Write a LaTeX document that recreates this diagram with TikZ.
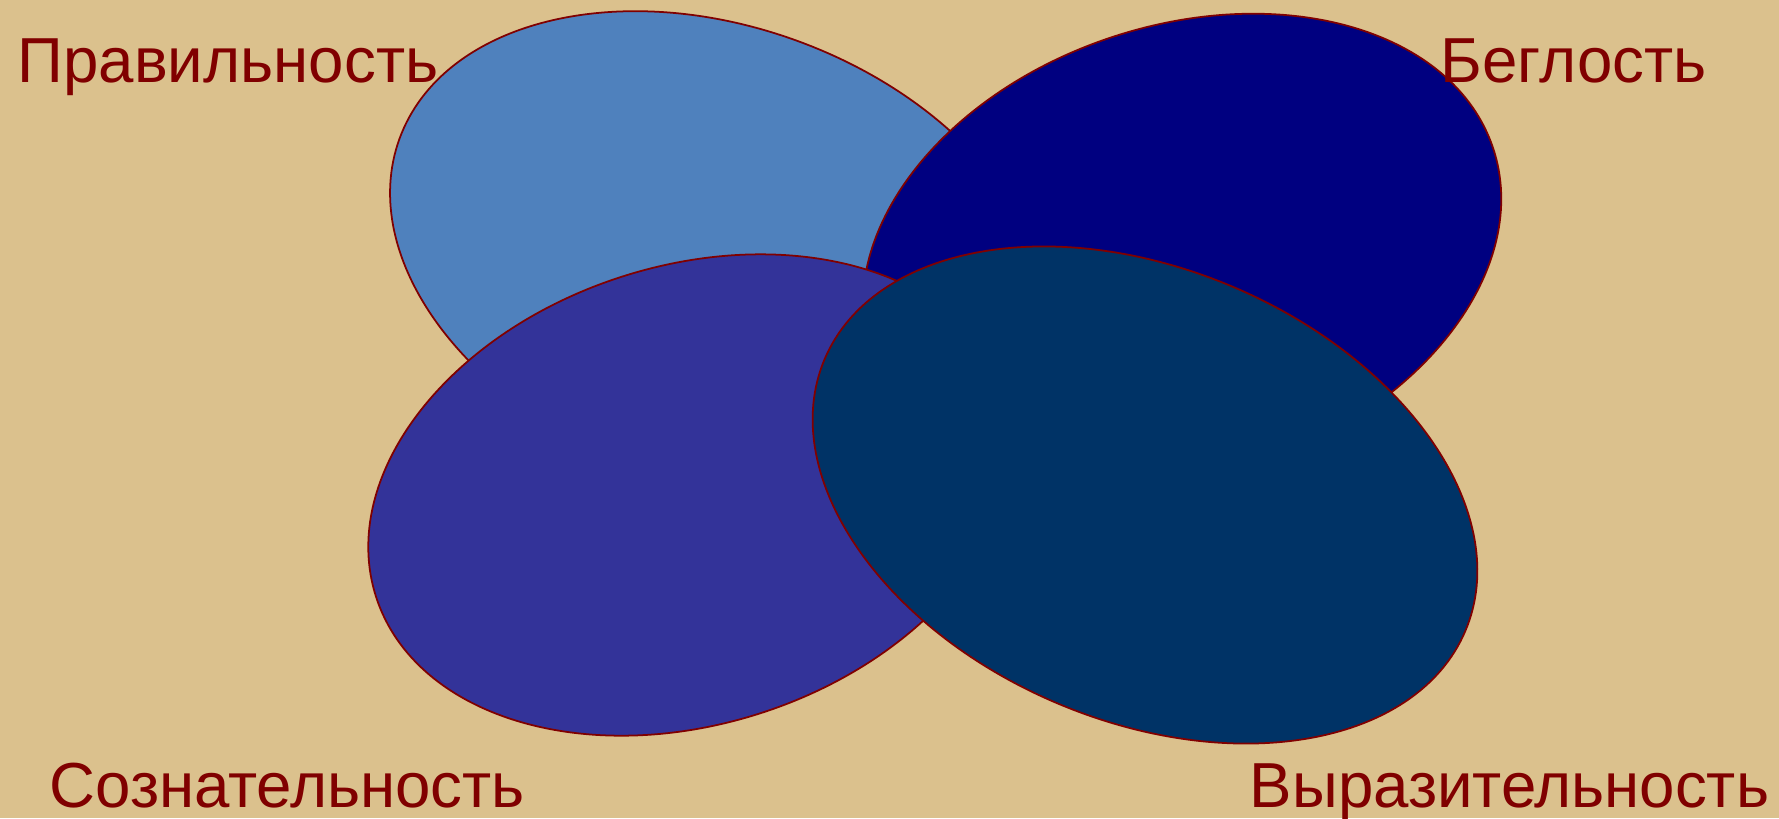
\documentclass[tikz,border=0pt]{standalone}
\usepackage{fontspec}
\setmainfont{Liberation Sans}
\definecolor{parchment}{RGB}{219,193,141}
\definecolor{rimred}{RGB}{128,0,0}
\definecolor{skyblue}{RGB}{79,129,189}
\definecolor{deepnavy}{RGB}{0,0,128}
\definecolor{indigo}{RGB}{51,51,153}
\definecolor{petrol}{RGB}{0,51,102}
\tikzset{
  petal/.style={draw=rimred,line width=0.5pt},
  word/.style={text=rimred,font=\fontsize{18.1}{20}\selectfont,inner sep=0pt}
}

\begin{document}
\begin{tikzpicture}[x=0.1mm,y=-0.1mm]
  \useasboundingbox (0,0) rectangle (1779,818);
  \fill[parchment] (0,0) rectangle (1779,818);
  % four tilted ellipses, back to front
  \foreach \col/\cx/\cy/\rx/\ry/\ang in {skyblue/719/255/340/228/-20,
      deepnavy/1182/252/328/226/18.5, indigo/691/495/331/229/18,
      petrol/1145/495/348/226/-23}{
    \fill[\col,petal,rotate around={\ang:(\cx,\cy)}]
      (\cx,\cy) ellipse [x radius=\rx, y radius=\ry];
  }
  \node[word,anchor=base west] (correct) at (17,82) {Правильность};
  \node[word,anchor=base west] (fluent) at (1440,82) {Беглость};
  \node[word,anchor=base west] (aware) at (49,807) {Сознательность};
  \node[word,anchor=base east] (express) at (1770,807) {Выразительность};
\end{tikzpicture}
\end{document}
